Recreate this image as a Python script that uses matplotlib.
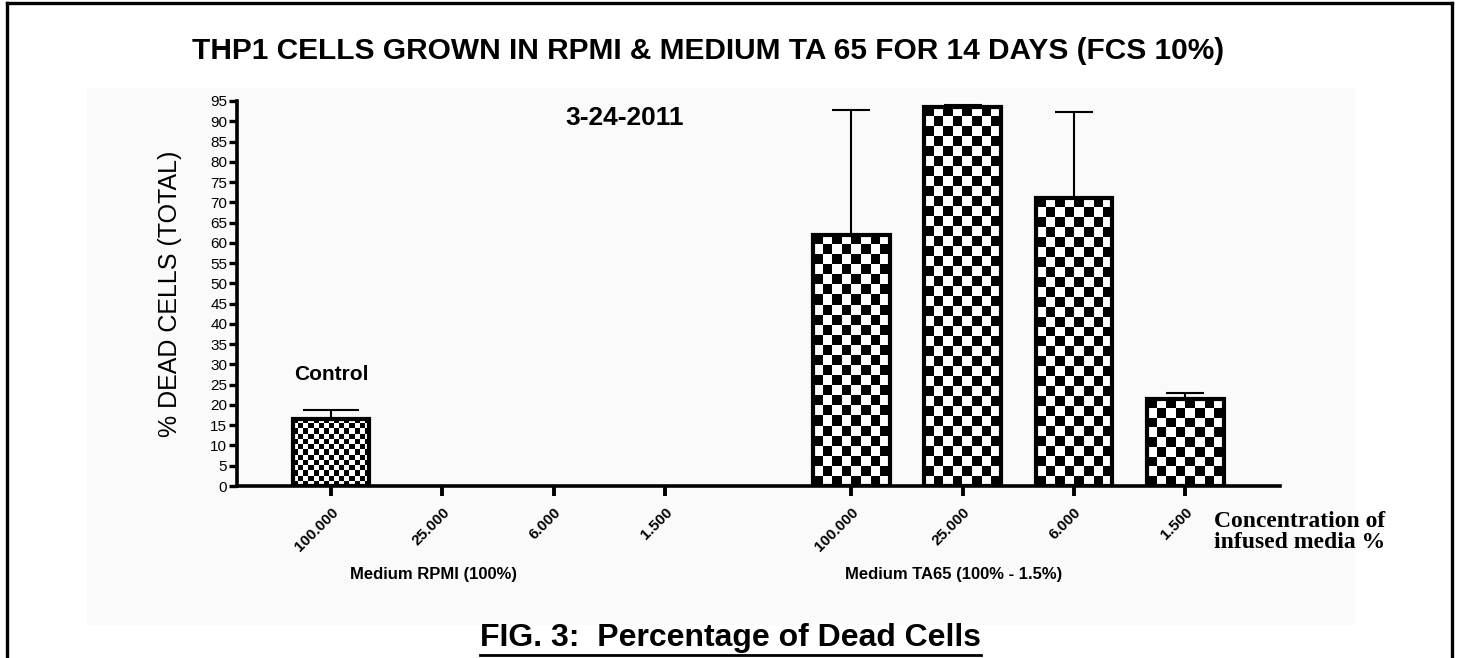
import numpy as np
import matplotlib
matplotlib.use("Agg")
import matplotlib.pyplot as plt
from matplotlib.lines import Line2D
from matplotlib.patches import Rectangle

plt.rcParams['font.family'] = ['Liberation Sans', 'DejaVu Sans']

# data
rpmi_labels = ['100.000', '25.000', '6.000', '1.500']
rpmi_vals = [16.6, np.nan, np.nan, np.nan]
rpmi_err = [2.2, np.nan, np.nan, np.nan]

ta_labels = ['100.000', '25.000', '6.000', '1.500']
ta_vals = [62.0, 93.6, 71.1, 21.5]
ta_err = [30.8, 0.5, 21.2, 1.5]

yticks = list(range(0, 100, 5))

# layout of the two groups on the x axis
rpmi_pos = np.arange(len(rpmi_labels))
ta_pos = np.arange(len(ta_labels)) + 4.67
bar_w = 0.69

fig = plt.figure(figsize=(14.59, 6.58), dpi=100)

# faint grey panel + frame lines
fig.add_artist(Rectangle((87/1459, 1-625/658), (1355-87)/1459, (625-88)/658,
                         transform=fig.transFigure, facecolor='#fafafa', edgecolor='none', zorder=0))
for xs, ys in [([7/1459, 7/1459], [0, 1-3/658]),
               ([7/1459, 1452/1459], [1-3/658, 1-3/658]),
               ([1452/1459, 1452/1459], [0, 1-3/658])]:
    fig.add_artist(Line2D(xs, ys, transform=fig.transFigure, color='black', lw=2.4))

ax = fig.add_axes([237/1459, 172/658, 1043/1459, 385/658])
ax.set_facecolor('none')
ax.set_xlim(-0.844, 8.52)
ax.set_ylim(0, 95)


def checker(bar, sq_px):
    x0, y0 = bar.get_x(), bar.get_y()
    w, h = bar.get_width(), bar.get_height()
    if not np.isfinite(h) or h <= 0:
        return
    (px0, py0), (px1, py1) = ax.transData.transform([(x0, y0), (x0 + w, y0 + h)])
    nx = max(1, int(round((px1 - px0) / sq_px)))
    ny = max(1, int(round((py1 - py0) / sq_px)))
    arr = np.add.outer(np.arange(ny), np.arange(nx)) % 2
    im = ax.imshow(arr, cmap='gray', extent=(x0, x0 + w, y0, y0 + h), aspect='auto',
                   interpolation='nearest', zorder=2, origin='upper')
    im.set_clip_path(bar)


bars1 = ax.bar(rpmi_pos, rpmi_vals, bar_w, facecolor='none', edgecolor='black', lw=3, zorder=3)
bars2 = ax.bar(ta_pos, ta_vals, bar_w, facecolor='none', edgecolor='black', lw=3, zorder=3)
for b in bars1:
    checker(b, 5)
for b in bars2:
    checker(b, 10)

ax.errorbar(rpmi_pos, rpmi_vals, yerr=[np.zeros(4), rpmi_err], fmt='none', ecolor='black',
            elinewidth=1.5, capsize=20, capthick=1.5, zorder=1)
ax.errorbar(ta_pos, ta_vals, yerr=[np.zeros(4), ta_err], fmt='none', ecolor='black',
            elinewidth=1.5, capsize=14, capthick=1.5, zorder=1)
ax.set_xlim(-0.844, 8.52)
ax.set_ylim(0, 95)

for s in ['top', 'right']:
    ax.spines[s].set_visible(False)
for s in ['left', 'bottom']:
    ax.spines[s].set_linewidth(2.6)

ax.set_yticks(yticks)
ax.set_yticklabels([str(v) for v in yticks], fontsize=11)
ax.tick_params(axis='y', length=6, width=2.4, pad=1)
ax.set_xticks(list(rpmi_pos) + list(ta_pos))
ax.set_xticklabels(rpmi_labels + ta_labels, fontsize=11, fontweight='bold',
                   rotation=45, ha='right', rotation_mode='anchor')
ax.tick_params(axis='x', length=7, width=2.8, pad=7)

ax.set_ylabel('% DEAD CELLS (TOTAL)', fontsize=18, labelpad=20)

ax.text(rpmi_pos[0], 27.5, 'Control', ha='center', va='center', fontsize=15, fontweight='bold')

fig.text(708/1459, 1-51/658, 'THP1 CELLS GROWN IN RPMI & MEDIUM TA 65 FOR 14 DAYS (FCS 10%)',
         ha='center', va='center', fontsize=21.5, fontweight='bold')
fig.text(625/1459, 1-118/658, '3-24-2011', ha='center', va='center', fontsize=19, fontweight='bold')
fig.text(433/1459, 1-574/658, 'Medium RPMI (100%)', ha='center', va='center', fontsize=12,
         fontweight='bold')
fig.text(954/1459, 1-575/658, 'Medium TA65 (100% - 1.5%)', ha='center', va='center', fontsize=12,
         fontweight='bold')
fig.text(1214/1459, 1-511/658, 'Concentration of\ninfused media %', ha='left', va='top',
         fontsize=17, fontweight='bold', family=['Liberation Serif', 'DejaVu Serif'], linespacing=1.0)
cap = fig.text(730/1459, 1-638/658, 'FIG. 3:  Percentage of Dead Cells', ha='center', va='center',
               fontsize=23, fontweight='bold')

fig.canvas.draw()
bb = cap.get_window_extent(fig.canvas.get_renderer())
uy = (bb.y0 - 2) / fig.bbox.height
fig.add_artist(Line2D([bb.x0 / fig.bbox.width, bb.x1 / fig.bbox.width], [uy, uy],
                      transform=fig.transFigure, color='black', lw=2))

fig.savefig('out.png', dpi=100)
